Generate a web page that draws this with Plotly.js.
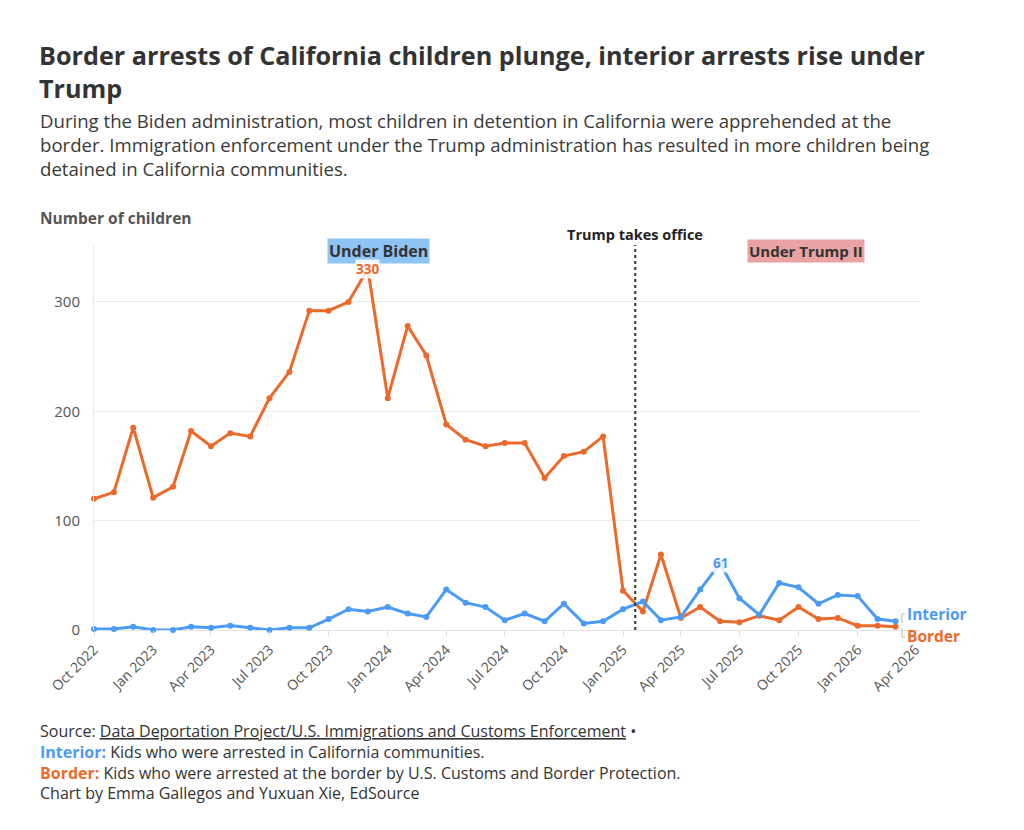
<!DOCTYPE html>
<html>
<head>
<meta charset="utf-8">
<script src="https://cdn.plot.ly/plotly-3.0.1.min.js"></script>
<style>
  html, body { margin: 0; padding: 0; background: #fff; }
  #chart { width: 1024px; height: 830px; }
</style>
</head>
<body>
<div id="chart"></div>
<script>
// ---- data ----
const months = [
  "2022-10-01","2022-11-01","2022-12-01",
  "2023-01-01","2023-02-01","2023-03-01","2023-04-01","2023-05-01","2023-06-01",
  "2023-07-01","2023-08-01","2023-09-01","2023-10-01","2023-11-01","2023-12-01",
  "2024-01-01","2024-02-01","2024-03-01","2024-04-01","2024-05-01","2024-06-01",
  "2024-07-01","2024-08-01","2024-09-01","2024-10-01","2024-11-01","2024-12-01",
  "2025-01-01","2025-02-01","2025-03-01","2025-04-01","2025-05-01","2025-06-01",
  "2025-07-01","2025-08-01","2025-09-01","2025-10-01","2025-11-01","2025-12-01",
  "2026-01-01","2026-02-01","2026-03-01"
];
const border = [
  120, 126, 185,
  121, 131, 182, 168, 180, 177,
  212, 236, 292, 292, 300, 330,
  212, 278, 251, 188, 174, 168,
  171, 171, 139, 159, 163, 177,
  36, 17, 69, 11, 21, 8,
  7, 13, 9, 21, 10, 11,
  4, 4, 3
];
const interior = [
  1, 1, 3,
  0, 0, 3, 2, 4, 2,
  0, 2, 2, 10, 19, 17,
  21, 15, 12, 37, 25, 21,
  9, 15, 8, 24, 6, 8,
  19, 26, 9, 12, 37, 61,
  29, 14, 43, 39, 24, 32,
  31, 10, 8
];
const seriesNames = ["Interior", "Border"];
const trumpDate = "2025-01-20";

const titleLines = [
  "Border arrests of California children plunge, interior arrests rise under",
  "Trump"
];
const subtitleLines = [
  "During the Biden administration, most children in detention in California were apprehended at the",
  "border. Immigration enforcement under the Trump administration has resulted in more children being",
  "detained in California communities."
];

// ---- style ----
const ORANGE = "#eb6a2b";
const BLUE = "#4a9bf6";
const FONT = "'Open Sans', 'Source Sans Pro', Roboto, sans-serif";
const TXT = "#333333";

// geometry helpers (pixel -> paper)
const L = 94, R = 920, T = 245, B = 630;
const px = x => (x - L) / (R - L);
const py = y => (B - y) / (B - T);

const traces = [
  {
    x: months, y: border, name: seriesNames[1], type: "scatter", mode: "lines+markers",
    line: { color: ORANGE, width: 3 }, marker: { color: ORANGE, size: 6 },
    hoverinfo: "x+y", cliponaxis: false
  },
  {
    x: months, y: interior, name: seriesNames[0], type: "scatter", mode: "lines+markers",
    line: { color: BLUE, width: 3 }, marker: { color: BLUE, size: 6 },
    hoverinfo: "x+y", cliponaxis: false
  }
];

const peakB = border.indexOf(Math.max(...border));
const peakIAfter = 27 + interior.slice(27).indexOf(Math.max(...interior.slice(27)));

function textBlock(text, x, y, size, color) {
  return { xref: "paper", yref: "paper", x: px(x), y: py(y), xanchor: "left", yanchor: "middle",
    align: "left", showarrow: false, borderpad: 0,
    font: { family: FONT, size: size, color: color }, text: text };
}

const footer = [
  "Source: <u>Data Deportation Project/U.S. Immigrations and Customs Enforcement</u> •",
  "<span style='color:" + BLUE + "'><b>" + seriesNames[0] + ":</b></span> Kids who were arrested in California communities.",
  "<span style='color:" + ORANGE + "'><b>" + seriesNames[1] + ":</b></span> Kids who were arrested at the border by U.S. Customs and Border Protection.",
  "Chart by Emma Gallegos and Yuxuan Xie, EdSource"
];

const annotations = [
  textBlock("<b>" + titleLines.join("<br>") + "</b>", 38, 71.5, 25.2, "#333333"),
  textBlock(subtitleLines.join("<br>"), 39, 144.5, 18.6, "#3a3a3a"),
  textBlock("<b>Number of children</b>", 39, 218, 15.5, "#555555"),
  textBlock(footer.join("<br>"), 39, 762, 16, "#333333"),
  // period labels
  { xref: "paper", yref: "paper", x: px(378), y: py(251), xanchor: "center", yanchor: "middle",
    showarrow: false, bgcolor: "#8ec4f4", borderpad: 1,
    font: { family: FONT, size: 16, color: "#333333" }, text: "<b>Under Biden</b>" },
  { xref: "paper", yref: "paper", x: px(806), y: py(251), xanchor: "center", yanchor: "middle",
    showarrow: false, bgcolor: "#e9a3a2", borderpad: 1,
    font: { family: FONT, size: 15, color: "#333333" }, text: "<b>Under Trump II</b>" },
  { xref: "x", yref: "paper", x: trumpDate, y: py(234), xanchor: "center", yanchor: "middle",
    showarrow: false, font: { family: FONT, size: 14.5, color: "#222222" }, text: "<b>Trump takes office</b>" },
  // value labels
  { xref: "x", yref: "y", x: months[peakB], y: border[peakB], xanchor: "center", yanchor: "middle",
    showarrow: false, bgcolor: "rgba(255,255,255,0.85)", borderpad: 0,
    font: { family: FONT, size: 13.5, color: ORANGE }, text: "<b>" + border[peakB] + "</b>" },
  { xref: "x", yref: "y", x: months[peakIAfter], y: interior[peakIAfter], xanchor: "center", yanchor: "middle",
    showarrow: false, bgcolor: "rgba(255,255,255,0.85)", borderpad: 0,
    font: { family: FONT, size: 13.5, color: BLUE }, text: "<b>" + interior[peakIAfter] + "</b>" },
  // end labels
  { xref: "paper", yref: "paper", x: px(906), y: py(614), xanchor: "left", yanchor: "middle",
    showarrow: false, borderpad: 0, font: { family: FONT, size: 15.5, color: BLUE }, text: "<b>" + seriesNames[0] + "</b>" },
  { xref: "paper", yref: "paper", x: px(906), y: py(636), xanchor: "left", yanchor: "middle",
    showarrow: false, borderpad: 0, font: { family: FONT, size: 15.5, color: ORANGE }, text: "<b>" + seriesNames[1] + "</b>" }
];

const shapes = [
  { type: "line", xref: "x", yref: "paper", x0: trumpDate, x1: trumpDate, y0: 0, y1: 1,
    line: { color: "#333333", width: 2, dash: "dot" } },
  // small brackets next to end labels
  { type: "path", xref: "paper", yref: "paper",
    path: `M ${px(905)} ${py(614)} L ${px(902)} ${py(614)} L ${px(902)} ${py(623)}`,
    line: { color: "#bbbbbb", width: 1 } },
  { type: "path", xref: "paper", yref: "paper",
    path: `M ${px(902)} ${py(628)} L ${px(902)} ${py(637)} L ${px(905)} ${py(637)}`,
    line: { color: "#bbbbbb", width: 1 } }
];

const layout = {
  width: 1024, height: 830,
  paper_bgcolor: "#ffffff", plot_bgcolor: "#ffffff",
  margin: { l: L, r: 1024 - R, t: T, b: 830 - B, pad: 0 },
  showlegend: false,
  font: { family: FONT, color: TXT },
  xaxis: {
    type: "date",
    range: ["2022-10-01", "2026-04-08"],
    tickmode: "linear", tick0: "2022-10-01", dtick: "M3",
    tickformat: "%b %Y", tickangle: -45,
    ticks: "outside", ticklen: 5, tickcolor: "#dddddd",
    tickfont: { family: FONT, size: 14, color: "#555555" },
    showgrid: false, zeroline: false, showline: false,
    fixedrange: true
  },
  yaxis: {
    range: [0, 352],
    tickvals: [0, 100, 200, 300],
    tickfont: { family: FONT, size: 15, color: "#555555" },
    ticks: "", ticklabelstandoff: 10,
    showgrid: true, gridcolor: "#ebebeb", gridwidth: 1,
    zeroline: true, zerolinecolor: "#e3e3e3", zerolinewidth: 1,
    showline: true, linecolor: "#ebebeb", linewidth: 1,
    fixedrange: true
  },
  annotations: annotations,
  shapes: shapes
};

Plotly.newPlot("chart", traces, layout, { displayModeBar: false, staticPlot: true });
</script>
</body>
</html>
